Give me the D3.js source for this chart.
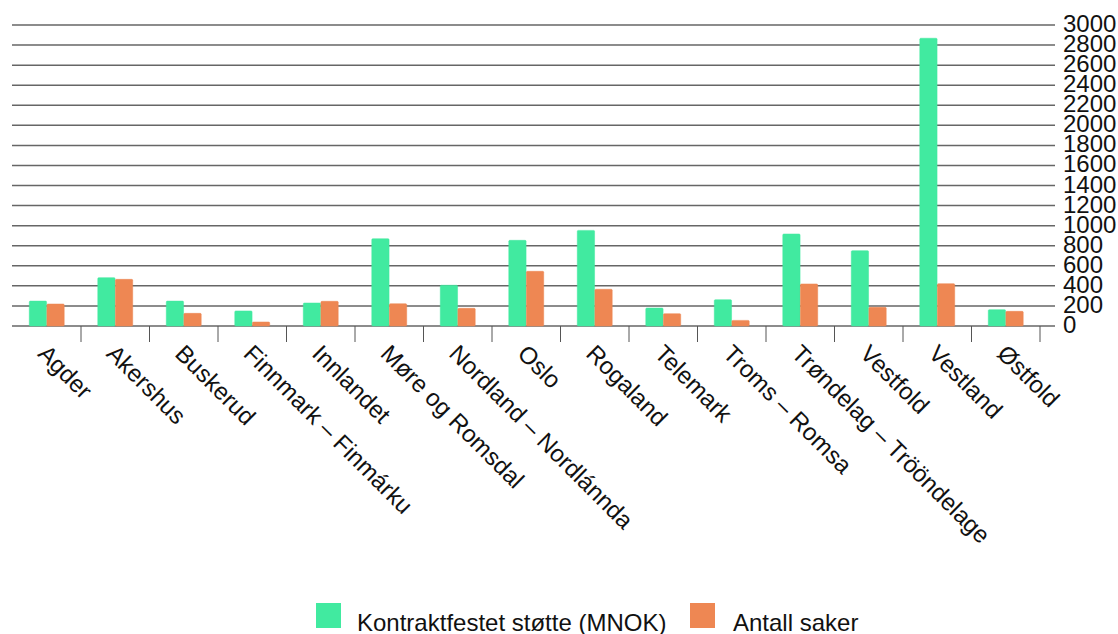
<!DOCTYPE html>
<html><head><meta charset="utf-8">
<script src="https://cdn.jsdelivr.net/npm/d3@7"></script>
<style>body{margin:0;background:#fff}svg{display:block;font-family:"Liberation Sans",Arial,sans-serif}</style>
</head><body>
<svg id="c" width="1118" height="634"></svg>
<script>
const categories = ["Agder","Akershus","Buskerud","Finnmark – Finmárku","Innlandet","Møre og Romsdal","Nordland – Nordlánnda","Oslo","Rogaland","Telemark","Troms – Romsa","Trøndelag – Trööndelage","Vestfold","Vestland","Østfold"];
const stotte = [248,482,248,150,229,870,406,854,953,179,262,917,751,2868,163];
const saker = [219,465,126,40,246,222,176,545,366,123,56,419,186,422,146];
const seriesNames = ["Kontraktfestet støtte (MNOK)","Antall saker"];
const yTicks = d3.range(0,3001,200);
const colors = ["#41EAA0","#EE8753"];

const svg = d3.select("#c");
const x0 = 12.5, x1 = 1040, gridEnd = 1055;
const yBase = 326, yTop = 25;
const x = d3.scaleBand().domain(categories).range([x0,x1]);
const y = d3.scaleLinear().domain([0,3000]).range([yBase,yTop]);
const inner = d3.scaleBand().domain([0,1]).range([x.bandwidth()*0.245, x.bandwidth()*0.755]).paddingInner(0.02);

// gridlines
svg.append("g").selectAll("line").data(yTicks).join("line")
  .attr("x1",12).attr("x2",gridEnd).attr("y1",d=>y(d)).attr("y2",d=>y(d))
  .attr("stroke","#666").attr("stroke-width",1.5);
// y labels
svg.append("g").selectAll("text").data(yTicks).join("text")
  .attr("x",1063).attr("y",d=>y(d)+7).attr("font-size",24).attr("fill","#111").text(d=>d);
// category ticks
svg.append("g").selectAll("line").data(categories.slice(1).concat(["__end"])).join("line")
  .attr("x1",(d,i)=>x0+(i+1)*x.bandwidth()).attr("x2",(d,i)=>x0+(i+1)*x.bandwidth())
  .attr("y1",yBase).attr("y2",yBase+16).attr("stroke","#555").attr("stroke-width",1);

// bars
const data = [stotte, saker];
const g = svg.append("g");
categories.forEach((c,i)=>{
  data.forEach((s,k)=>{
    g.append("rect").attr("x",x(c)+inner(k)).attr("width",inner.bandwidth())
      .attr("y",y(s[i])).attr("height",yBase-y(s[i])).attr("rx",1)
      .attr("fill",colors[k]).attr("stroke",colors[k]).attr("stroke-opacity",0.5).attr("stroke-width",1);
  });
});

// category labels
svg.append("g").selectAll("text").data(categories).join("text")
  .attr("transform",d=>`translate(${x(d)+x.bandwidth()/2-10},${yBase+29}) rotate(45)`)
  .attr("font-size",24).attr("fill","#111").text(d=>d);

// legend
const leg = [{x:316,tx:357},{x:690,tx:733}];
leg.forEach((l,k)=>{
  svg.append("rect").attr("x",l.x).attr("y",603).attr("width",25).attr("height",25).attr("fill",colors[k]);
  svg.append("text").attr("x",l.tx).attr("y",631).attr("font-size",24).attr("fill","#111").text(seriesNames[k]);
});
</script>
</body></html>
